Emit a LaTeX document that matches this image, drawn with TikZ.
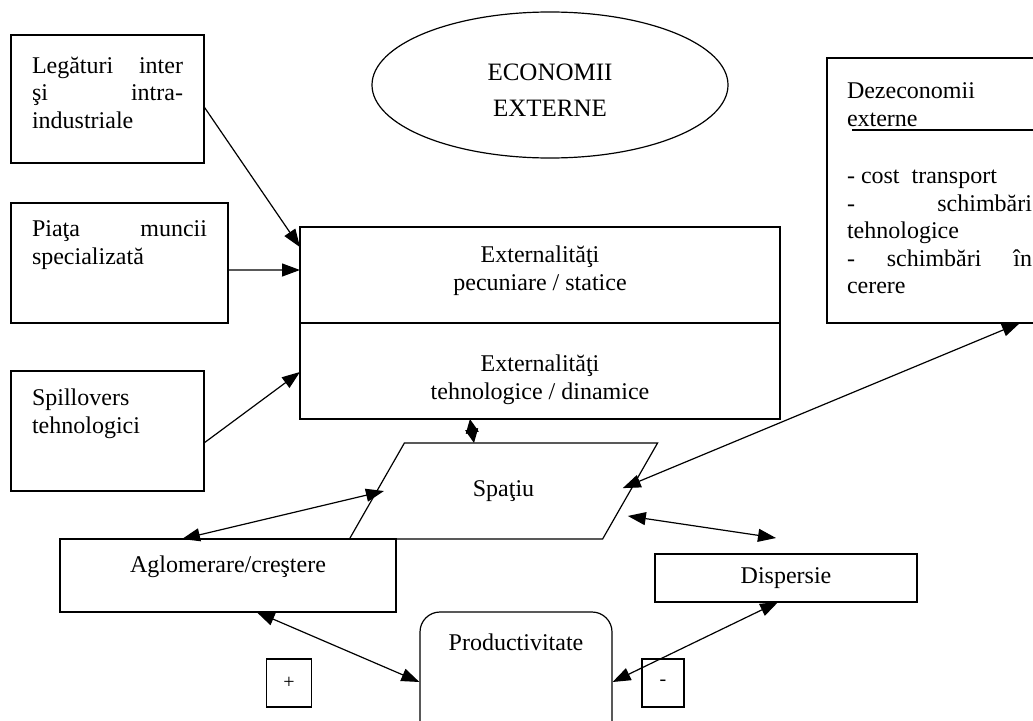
\documentclass[tikz,border=0pt]{standalone}
\usepackage{fontspec}
\setmainfont{Liberation Serif}
\usetikzlibrary{arrows.meta,shapes.geometric,calc}
\begin{document}
\begin{tikzpicture}[x=1pt,y=-1pt,line width=1.2pt,
  box/.style={draw,rectangle,inner sep=0pt,outer sep=0pt},
  txt/.style={inner sep=0pt,outer sep=0pt,font=\fontsize{24}{27.5}\selectfont},
  tip/.tip={Triangle[length=18pt,width=13pt]},
  arr/.style={-tip},
  darr/.style={tip-tip},
]
\useasboundingbox (0,0) rectangle (1033,720);
% boxes
\node[box,minimum width=193pt,minimum height=128pt] (leg) at (107.5,99) {};
\node[box,minimum width=217pt,minimum height=120pt] (piata) at (119.5,263) {};
\node[box,minimum width=193pt,minimum height=120pt] (spill) at (107.5,431) {};
\node[box,minimum width=480pt,minimum height=96pt] (ext1) at (540,275) {};
\node[box,minimum width=480pt,minimum height=96pt] (ext2) at (540,371) {};
\node[draw,ellipse,inner sep=0pt,minimum width=356pt,minimum height=146pt] (ell) at (550,85) {};
\node[box,minimum width=218pt,minimum height=265pt] (dez) at (936,190.5) {};
\node[draw,trapezium,trapezium left angle=51,trapezium right angle=129,trapezium stretches=true,
      inner sep=0pt,minimum width=311pt,minimum height=96pt,txt] (sp) at (503.5,491) {Spaţiu};
\node[box,minimum width=336pt,minimum height=73pt] (aglo) at (228,575.5) {};
\node[box,minimum width=262pt,minimum height=48pt,txt] (disp) at (786,578) {Dispersie};
\node[draw,rectangle,rounded corners=20pt,inner sep=0pt,minimum width=192pt,minimum height=140pt] (prod) at (516,682) {};
\node[box,minimum width=45pt,minimum height=48pt,font=\fontsize{20}{24}\selectfont] (plus) at (289,683) {+};
\node[box,minimum width=42pt,minimum height=48pt,font=\fontsize{20}{24}\selectfont] (minus) at (663,683) {-};
% texts
\node[txt,font=\fontsize{25}{28}\selectfont,align=center] (ellt) at (550,90) {ECONOMII\\[8pt]EXTERNE};
\node[txt,anchor=north west,align=left] (legt) at (32,57) {\makebox[151pt][l]{Legături\hfill inter}\\\makebox[151pt][l]{şi\hfill intra-}\\industriale};
\node[txt,anchor=north west,align=left] (piatat) at (32,221) {\makebox[175pt][l]{Piaţa\hfill muncii}\\specializată};
\node[txt,anchor=north west,align=left] (spillt) at (32,389) {Spillovers\\tehnologici};
\node[txt,anchor=north,align=center] (ext1t) at (540,246) {Externalităţi\\pecuniare / statice};
\node[txt,anchor=north,align=center] (ext2t) at (540,355) {Externalităţi\\tehnologice / dinamice};
\node[txt,anchor=north west,align=left] (dezt) at (847,83) {Dezeconomii\\externe};
\node[txt,anchor=north west,align=left] (dezl) at (847,170) {- cost\ \ transport\\\makebox[185pt][l]{-\hfill schimbări}\\tehnologice\\\makebox[185pt][l]{-\hfill schimbări\hfill în}\\cerere};
\coordinate (dezl1) at (852,130);
\draw (dezl1) -- (dezl1 -| dez.east);
\node[txt] (aglot) at (228,567) {Aglomerare/creştere};
\node[txt] (prodt) at (516,642) {Productivitate};
% connectors
\draw[arr] ($(leg.north east)!0.56!(leg.south east)$) -- ($(ext1.north west)!0.21!(ext1.south west)$);
\draw[arr] ($(piata.north east)!0.558!(piata.south east)$) -- ($(ext1.north west)!0.448!(ext1.south west)$);
\draw[arr] ($(spill.north east)!0.6!(spill.south east)$) -- ($(ext2.north west)!0.51!(ext2.south west)$);
\draw[{Triangle[length=14pt,width=13pt]}-{Triangle[length=14pt,width=13pt]}] ($(ext2.south west)!0.354!(ext2.south east)$) -- ($(sp.top left corner)!0.275!(sp.top right corner)$);
\draw[darr] ($(aglo.north west)!0.363!(aglo.north east)$) -- ($(sp.top left corner)!0.5!(sp.bottom left corner)+(7,0)$);
\draw[darr] ($(sp.top right corner)!0.47!(sp.bottom right corner)+(-9,0)$) -- ($(dez.south west)!0.885!(dez.south east)$);
\draw[darr] ($(sp.top right corner)!0.76!(sp.bottom right corner)+(12,0)$) -- ($(disp.north)+(-10,-16)$);
\draw[darr] ($(aglo.south west)!0.585!(aglo.south east)$) -- (prod.west);
\draw[darr] (prod.east) -- ($(disp.south west)!0.47!(disp.south east)$);
\end{tikzpicture}
\end{document}
